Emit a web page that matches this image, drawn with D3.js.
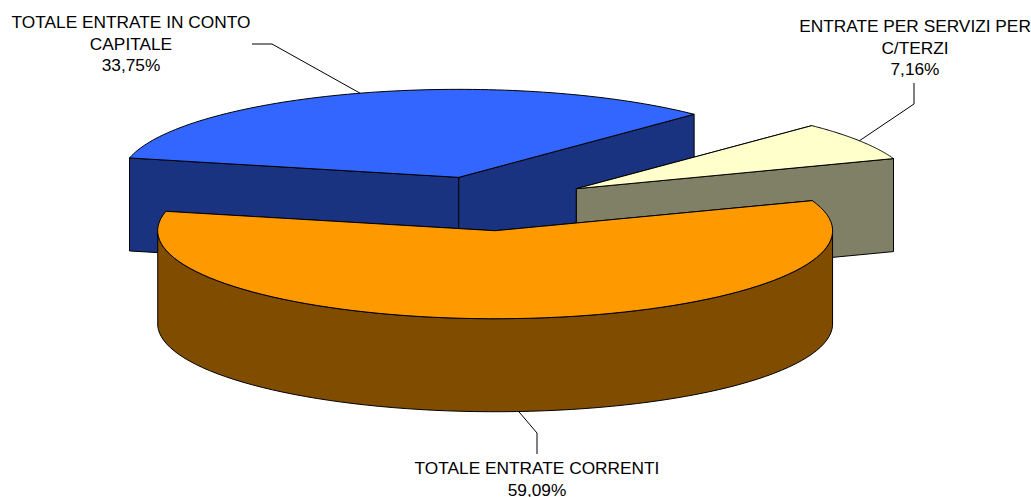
<!DOCTYPE html>
<html><head><meta charset="utf-8">
<style>html,body{margin:0;padding:0;background:#fff}svg{display:block}text{font-family:"Liberation Sans",Arial,sans-serif;font-size:17.3px;fill:#000}</style>
<script src="https://cdn.jsdelivr.net/npm/d3@7"></script></head><body><script>
const categories=["TOTALE ENTRATE CORRENTI","TOTALE ENTRATE IN CONTO CAPITALE","ENTRATE PER SERVIZI PER C/TERZI"];
const values=[59.09,33.75,7.16];
const labelLines=[["TOTALE ENTRATE CORRENTI","59,09%"],["TOTALE ENTRATE IN CONTO","CAPITALE","33,75%"],["ENTRATE PER SERVIZI PER","C/TERZI","7,16%"]];
const topColors=["#FF9900","#3366FF","#FFFFCC"];
const sideColors=["#804D00","#1A3380","#808066"];
const W=1031,H=497,depth=93,explode=0.31,N=90;
const x=d3.scaleLinear().domain([-1,1]).range([488.5-337.5,488.5+337.5]);
const y=d3.scaleLinear().domain([-1,1]).range([203.5-88,203.5+88]);
const rad=Math.PI/180;
const pie=d3.pie().sort(null).startAngle(-20*rad).endAngle(340*rad)(values);
const svg=d3.select("body").append("svg").attr("width",W).attr("height",H);
const line=d3.line().x(d=>d[0]).y(d=>d[1]);
const slices=pie.map((p,i)=>{
  const mid=(p.startAngle+p.endAngle)/2;
  const ox=explode*Math.cos(mid),oy=explode*Math.sin(mid);
  const pt=(t,dz=0)=>[x(ox+Math.cos(t)),y(oy+Math.sin(t))+dz];
  const arc=d3.range(N+1).map(k=>p.startAngle+(p.endAngle-p.startAngle)*k/N);
  return {i,p,pt,arc,c:[x(ox),y(oy)]};
});
function drawSlice(s){
  const g=svg.append("g");
  const put=(pts,fill)=>g.append("path").attr("d",line(pts)+"Z").attr("fill",fill)
    .attr("stroke","#000").attr("stroke-width",1).attr("stroke-linejoin","round");
  const c=s.c,down=q=>[q[0],q[1]+depth];
  [s.p.startAngle,s.p.endAngle].forEach(t=>{const q=s.pt(t);put([c,q,down(q),down(c)],sideColors[s.i]);});
  const front=s.arc.filter(t=>Math.sin(t)>=0);
  if(front.length>1){const top=front.map(t=>s.pt(t));put(top.concat(top.map(down).reverse()),sideColors[s.i]);}
  put([c].concat(s.arc.map(t=>s.pt(t))),topColors[s.i]);
}
[1,2,0].forEach(i=>drawSlice(slices[i]));
const leaders=[
 {i:0,t:86*rad,dz:depth,via:[[537,433],[537,454]]},
 {i:1,t:253*rad,dz:0,via:[[272,44],[252,44]]},
 {i:2,t:-33*rad,dz:0,via:[[914,104],[914,83]]}];
leaders.forEach(l=>{
  svg.append("path").attr("fill","none").attr("stroke","#000").attr("stroke-width",1)
   .attr("d",line([slices[l.i].pt(l.t,l.dz)].concat(l.via)));
});
const labelPos=[[537,474],[131,28],[915,32]];
labelLines.forEach((ls,i)=>{
  const t=svg.append("text").attr("text-anchor","middle");
  ls.forEach((s,k)=>t.append("tspan").attr("x",labelPos[i][0]).attr("y",labelPos[i][1]+k*21.5).text(s));
});
</script></body></html>
